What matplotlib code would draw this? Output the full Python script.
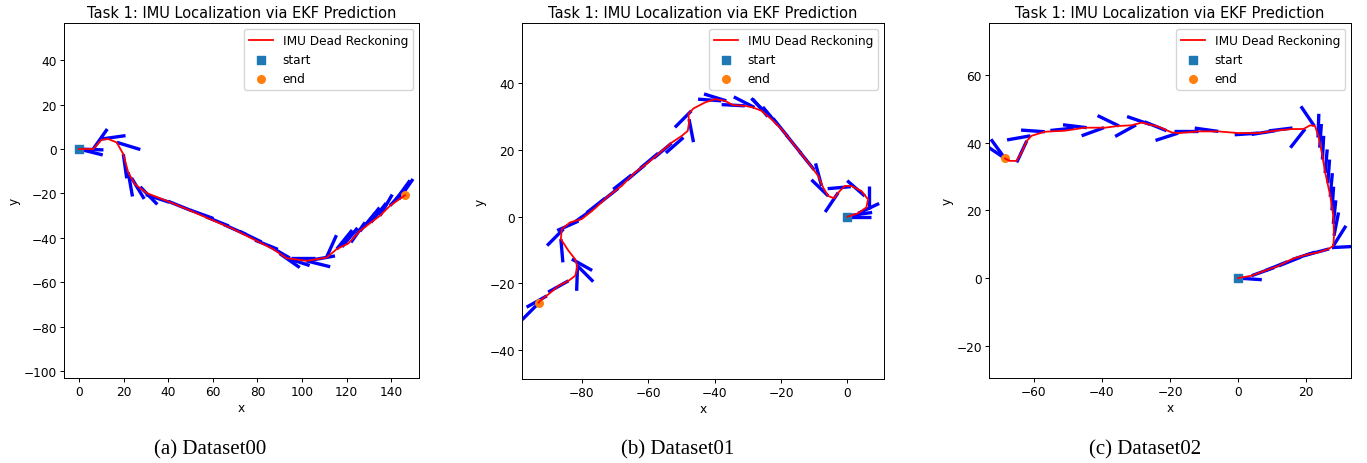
import matplotlib
matplotlib.use('Agg')

import numpy as np
import matplotlib.pyplot as plt

# ---- Dataset00 trajectory (x, y) ----
traj0_x = [0, 6.4, 10.2, 13.1, 16.9, 19.9, 22.1, 25.1, 30.4, 39.3, 48.3, 58.7, 69.2,
           79.7, 87.1, 93.1, 102.1, 111.1, 115.6, 120.8, 126.0, 135.0, 139.5, 146.2]
traj0_y = [0, 0, 4.2, 4.5, 3.0, -2.3, -10.5, -15.8, -19.8, -23.3, -27.0, -31.5, -36.0,
           -41.3, -45.0, -49.1, -50.3, -48.8, -45.0, -42.5, -36.8, -30.0, -25.5, -20.8]
# heading samples: x, y, heading (deg)
head0_x = [0, 0, 6.4, 10, 17, 19.9, 22.1, 23.6, 27.5, 30, 40, 50, 57, 65, 72, 79, 85, 90,
           93, 95, 102, 104, 111, 115.6, 118, 122, 126, 128, 131, 135, 139.5, 142, 143.5]
head0_y = [0, 0, 0, 4.5, 3, -2.3, -10.5, -13, -17, -20.5, -23.5, -27.5, -30.5, -34, -37,
           -41, -43.5, -47, -49, -49, -50.3, -50, -48.8, -45, -44, -42, -37, -35, -33, -30,
           -25.5, -23, -22.5]
head0_t = [-14, -2, 55, 8, -17, -82, -80, -59, -46, -18, -22, -20, -22, -24, -26, -22, -30,
           -35, -18, 0, -14, 10, 66, 51, 51, 55, 50, 52, 52, 60, 48, 54, 55]

# ---- Dataset01 trajectory ----
traj1_x = [0, 3.2, 5.7, 6.2, 4.2, 1.2, -0.8, -2.8, -4.0, -5.8, -7.3, -8.8, -11.8, -15.8,
           -19.8, -22.9, -25.9, -28.4, -30.9, -34.4, -36.9, -39.9, -42.9, -46.4, -47.9,
           -47.7, -48.1, -49.9, -52.9, -55.9, -60.0, -64.0, -68.0, -72.0, -76.0, -80.0,
           -83.5, -86.0, -86.3, -84.0, -82.0, -81.3, -82.0, -84.0, -87.0, -90.0, -92.0, -93.0]
traj1_y = [0, 1.0, 2.8, 5.2, 7.7, 9.2, 9.2, 7.2, 5.5, 6.2, 8.7, 12.2, 16.2, 21.2, 26.2,
           29.2, 31.7, 32.7, 33.2, 33.4, 34.7, 35.2, 34.2, 32.4, 30.7, 28.2, 25.7, 24.2,
           22.2, 19.7, 16.2, 13.2, 9.2, 6.2, 2.5, -0.7, -1.7, -3.7, -6.7, -10.2, -12.7,
           -15.2, -17.7, -19.2, -20.7, -23.2, -24.7, -25.7]
head1_x = [0, 0.5, 3.2, 6.4, 5.2, 1.0, -2.8, -5.8, -7.8, -10, -14, -18, -21, -24, -24, -28,
           -30.9, -38, -36.5, -47, -47.7, -49.4, -53, -57, -61, -65, -69, -73, -77, -81,
           -85.5, -86.3, -83, -81.5, -81.3, -84, -90.5, -93]
head1_y = [0, 0.3, 1.0, 2.2, 6.2, 9.0, 7.2, 6.2, 9.2, 14, 19, 24, 27.5, 30.5, 30, 32.7,
           33.2, 34.7, 34.7, 31.7, 29.2, 23.7, 22, 19, 15.5, 12.5, 8.5, 5.5, 2, -1.3,
           -3.7, -6.7, -12.7, -14.5, -15.2, -19.2, -23.7, -25.9]
head1_t = [0, 8, 25, 90, 139, 185, 236, 136, 105, 129, 129, 129, 130, 135, 131, 153, 177,
           176, 163, 225, 281, 221, 220, 220, 220, 218, 218, 218, 215, 204, 225, 275, 331,
           315, 268, 209, 209, 225]

# ---- Dataset02 trajectory ----
traj2_x = [0, 4.0, 7.9, 11.9, 15.8, 19.7, 23.6, 26.6, 28.0, 28.2, 28.0, 27.1, 25.6, 24.6,
           23.6, 22.6, 21.2, 19.2, 15.8, 10.9, 6.0, 0.1, -5.8, -11.7, -17.6, -19.5, -23.4,
           -28.3, -31.3, -35.2, -39.1, -45.0, -50.9, -56.8, -60.7, -62.1, -63.6, -65.1,
           -67.1, -68.5]
traj2_y = [0, 0.7, 2.2, 3.6, 5.6, 6.8, 7.6, 8.6, 9.5, 12.5, 18.4, 24.3, 31.2, 37.1, 42.0,
           44.9, 45.1, 44.0, 44.0, 43.5, 42.8, 42.8, 43.3, 43.3, 42.8, 43.0, 44.7, 45.9,
           45.1, 44.9, 44.4, 44.4, 43.5, 43.2, 42.0, 40.5, 37.1, 34.6, 34.6, 35.3]
head2_x = [0, 4, 8, 12, 16, 20, 27.6, 28, 28.2, 28, 27.6, 27.1, 26.4, 25.6, 24.8, 24, 23.5,
           22.4, 19.7, 16, 10.9, 6, -5.8, -11.7, -17.6, -21, -26, -30, -35, -39.4, -44.5,
           -48.2, -56.8, -61, -62.1, -68.5, -68]
head2_y = [0, 0.7, 2.2, 3.6, 5.5, 6.8, 9.0, 9.5, 12.5, 16, 20, 24, 28, 31, 35, 38.5, 41.5,
           44.9, 44, 44.3, 43.5, 42.8, 43.3, 43.3, 42.8, 43.5, 45.4, 45.2, 44.9, 44.4, 44.4,
           44.3, 43.2, 42, 40.5, 35.3, 35]
head2_t = [-4, 20, 22, 22, 18, 15, 3, 58, 79, 84, 86, 85, 86, 85, 87, 86, 88, 124, 232,
           187, 189, 184, 172, 180, 198, 158, 161, 209, 154, 200, 173, 186, 176, 190, 245,
           126, 146]

datasets = [
    (traj0_x, traj0_y, head0_x, head0_y, head0_t, 11.0),
    (traj1_x, traj1_y, head1_x, head1_y, head1_t, 7.0),
    (traj2_x, traj2_y, head2_x, head2_y, head2_t, 7.0),
]
xlims = [(-6.7, 152.5), (-98.0, 11.0), (-73.2, 33.2)]
ylims = [(-103.0, 56.7), (-48.6, 58.0), (-29.5, 75.3)]
xticks = [range(0, 141, 20), range(-80, 1, 20), range(-60, 21, 20)]
yticks = [range(-100, 41, 20), range(-40, 41, 20), range(-20, 61, 20)]
captions = ['(a) Dataset00', '(b) Dataset01', '(c) Dataset02']

W, H = 1367, 464
fig = plt.figure(figsize=(W / 100, H / 100), dpi=100)

# axes boxes in pixels: left, right, top, bottom
boxes = [(64, 419, 24, 379), (522, 884, 24, 380), (989, 1351, 24, 379)]
caption_x = [210, 678, 1145]

fs = 8.7
for i, (tx, ty, hx, hy, ht, L) in enumerate(datasets):
    l, r, t, b = boxes[i]
    ax = fig.add_axes([l / W, 1 - b / H, (r - l) / W, (b - t) / H])

    hx = np.array(hx, dtype=float)
    hy = np.array(hy, dtype=float)
    th = np.radians(ht)
    for x0, y0, a in zip(hx, hy, th):
        ax.plot([x0, x0 + L * np.cos(a)], [y0, y0 + L * np.sin(a)],
                color='blue', lw=2.4, solid_capstyle='butt', zorder=1)

    s_h = ax.scatter(tx[0], ty[0], marker='s', s=30, color='C0', zorder=2, label='start')
    e_h = ax.scatter(tx[-1], ty[-1], marker='o', s=30, color='C1', zorder=2, label='end')
    r_h, = ax.plot(tx, ty, color='red', lw=1.3, zorder=3, label='IMU Dead Reckoning')

    ax.set_xlim(*xlims[i])
    ax.set_ylim(*ylims[i])
    ax.set_xticks(list(xticks[i]))
    ax.set_yticks(list(yticks[i]))
    ax.tick_params(labelsize=fs, length=2.6, width=0.7, pad=2.5)
    for sp in ax.spines.values():
        sp.set_linewidth(0.7)
    ax.set_title('Task 1: IMU Localization via EKF Prediction', fontsize=10.5, pad=4)
    ax.set_xlabel('x', fontsize=fs, labelpad=2)
    ax.set_ylabel('y', fontsize=fs, labelpad=2)
    ax.legend(handles=[r_h, s_h, e_h], loc='upper right', fontsize=fs)

    fig.text(caption_x[i] / W, 1 - 450 / H, captions[i], ha='center', va='center',
             fontsize=15, family='Liberation Serif')

plt.savefig('out.png', dpi=100)
